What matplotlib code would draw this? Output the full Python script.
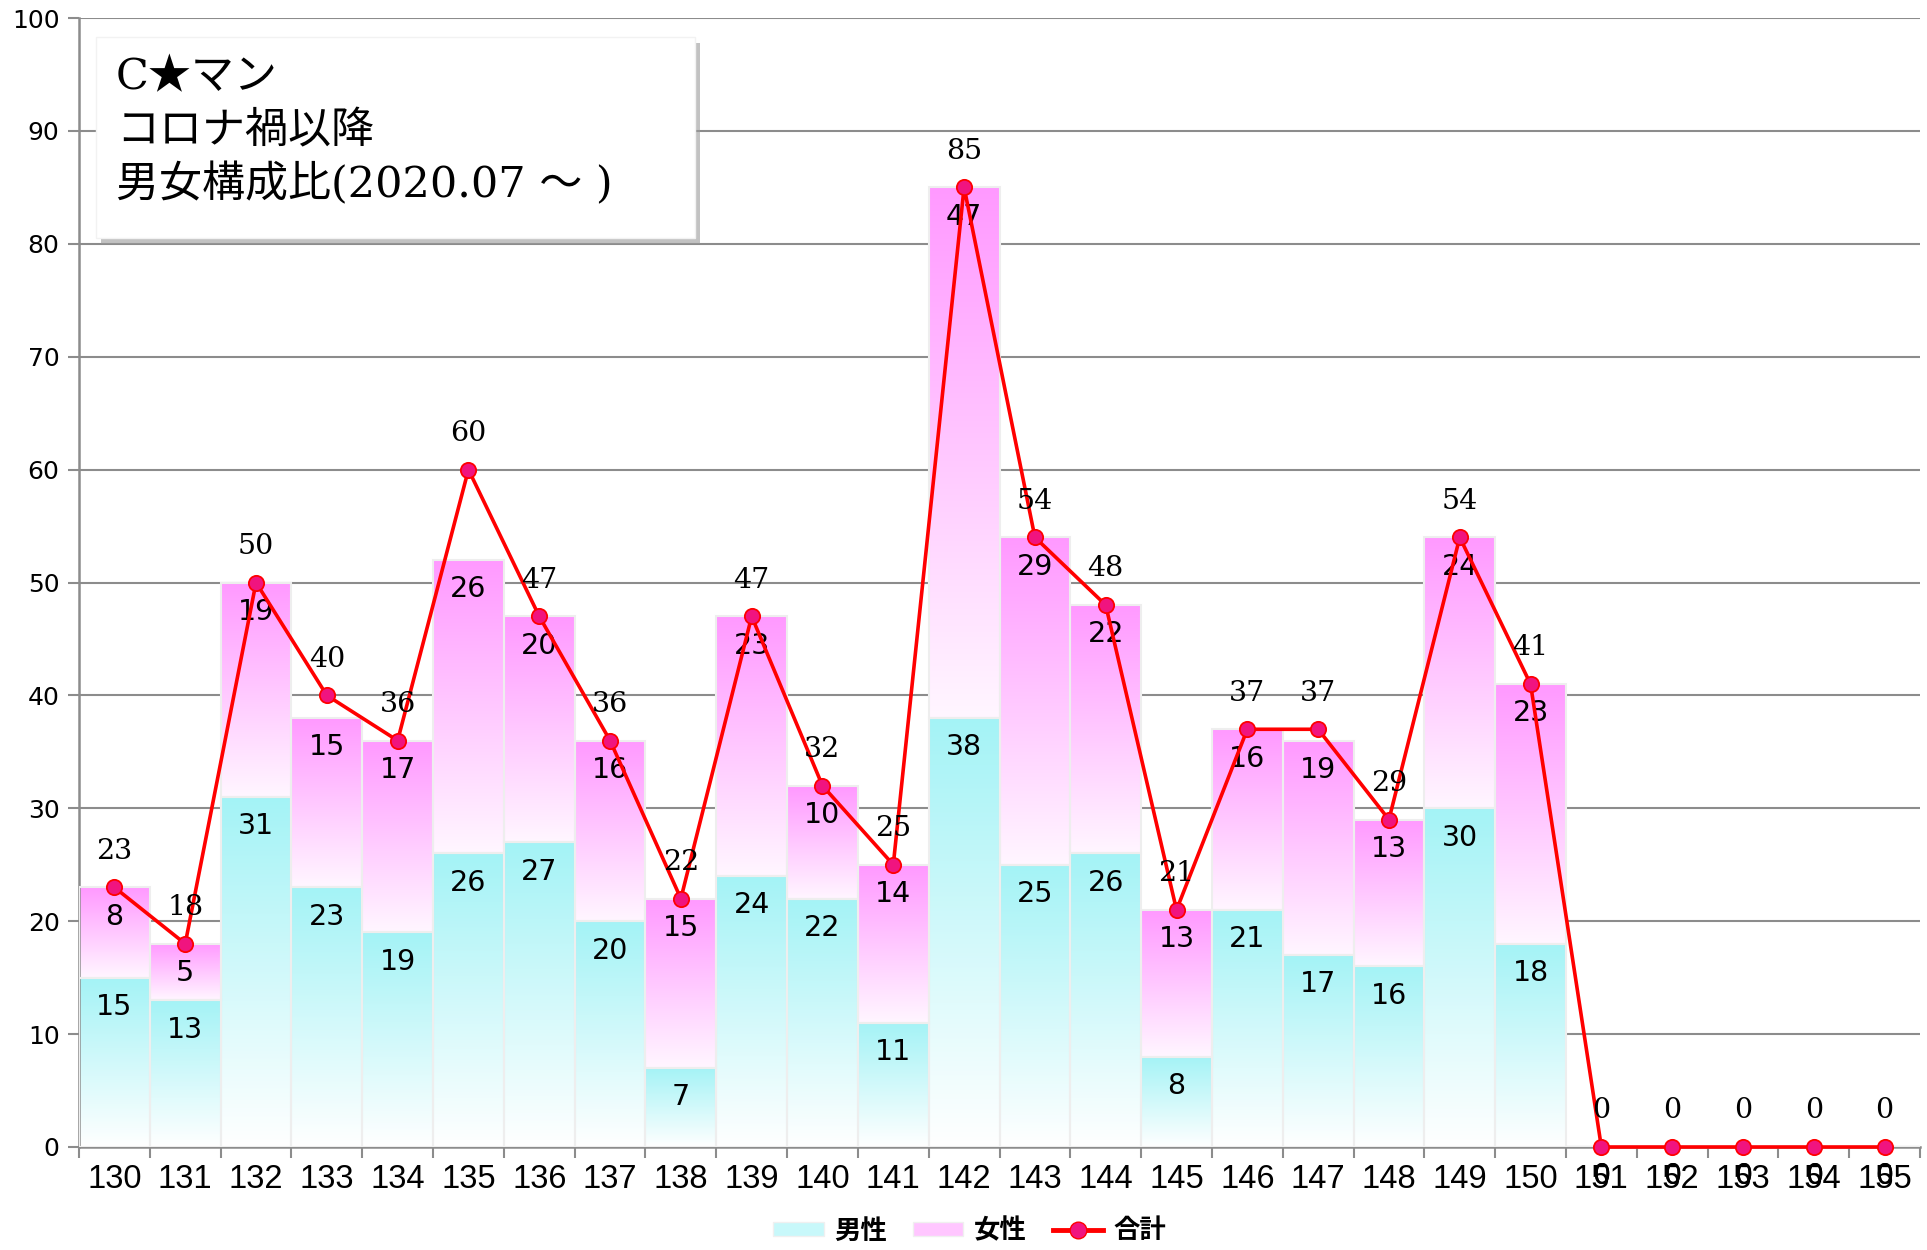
import matplotlib
matplotlib.use("Agg")
import matplotlib.pyplot as plt
import numpy as np
from matplotlib.colors import LinearSegmentedColormap
from matplotlib.lines import Line2D
from matplotlib.patches import Patch, Rectangle

# ── Data ─────────────────────────────────────────────────────────────────────
categories = [str(c) for c in range(130, 156)]
male = [15, 13, 31, 23, 19, 26, 27, 20, 7, 24, 22, 11, 38, 25, 26, 8, 21, 17, 16, 30, 18,
        0, 0, 0, 0, 0]
female = [8, 5, 19, 15, 17, 26, 20, 16, 15, 23, 10, 14, 47, 29, 22, 13, 16, 19, 13, 24, 23,
          0, 0, 0, 0, 0]
total = [23, 18, 50, 40, 36, 60, 47, 36, 22, 47, 32, 25, 85, 54, 48, 21, 37, 37, 29, 54, 41,
         0, 0, 0, 0, 0]
title_lines = ["C★マン", "コロナ禍以降", "男女構成比(2020.07 ～ )"]
legend_labels = ["男性", "女性", "合計"]

CJK = ["Noto Sans CJK JP", "DejaVu Sans"]
LABEL_FONT = ["DejaVu Sans"]
SERIF = ["DejaVu Serif"]
TITLE_FONT = ["DejaVu Serif", "Noto Sans CJK JP", "DejaVu Sans"]
CYAN = "#a4f3f6"
PINK = "#ff99ff"
GRID = "#8c8c8c"

W, H = 1927, 1250
fig = plt.figure(figsize=(W / 100, H / 100), dpi=100)
ax = fig.add_axes([79 / W, 1 - 1147 / H, (1920 - 79) / W, (1147 - 18) / H])

x = np.arange(len(categories))
male_cmap = LinearSegmentedColormap.from_list("m", ["#ffffff", CYAN])
fem_cmap = LinearSegmentedColormap.from_list("f", ["#fff6ff", PINK])
grad = np.linspace(0, 1, 256).reshape(-1, 1)


def gradient_bars(vals, bottoms, cmap):
    bars = ax.bar(x, vals, width=1.0, bottom=bottoms, facecolor="none",
                  edgecolor="#eeeeee", linewidth=1.5, zorder=3)
    for b in bars:
        if b.get_height() <= 0:
            continue
        x0, y0 = b.get_x(), b.get_y()
        im = ax.imshow(grad, extent=[x0, x0 + b.get_width(), y0, y0 + b.get_height()],
                       origin="lower", aspect="auto", cmap=cmap, zorder=2,
                       interpolation="bilinear")
        im.set_clip_path(b)
    return bars


gradient_bars(male, 0, male_cmap)
gradient_bars(female, male, fem_cmap)

ax.plot(x, total, color="#ff0000", lw=2.6, marker="o", ms=11,
        mfc="#f0147f", mec="#ff0000", mew=1.3, zorder=5, clip_on=False)

# data labels
for xi, m, f, t in zip(x, male, female, total):
    ax.text(xi, m - 2.6, str(m), ha="center", va="center", fontsize=20.5,
            family=LABEL_FONT, zorder=4, clip_on=False)
    ax.text(xi, m + f - 2.6, str(f), ha="center", va="center", fontsize=20.5,
            family=LABEL_FONT, zorder=4, clip_on=False)
    ax.text(xi, t + 3.2, str(t), ha="center", va="center", fontsize=20.5,
            family=SERIF, zorder=6, clip_on=False)

ax.set_xlim(-0.5, len(categories) - 0.5)
ax.set_ylim(0, 100)
ax.set_yticks(range(0, 101, 10))
ax.set_yticklabels([str(v) for v in range(0, 101, 10)],
                   family=["Liberation Sans Narrow", "DejaVu Sans"], fontsize=18)
ax.set_xticks(np.arange(-0.5, len(categories)), [""] * (len(categories) + 1))
ax.set_xticks(x, categories, minor=True, fontsize=23.5, family=["Liberation Sans"])
ax.tick_params(axis="x", which="major", length=8, width=1.5, color=GRID)
ax.tick_params(axis="x", which="minor", length=0, pad=12)
ax.tick_params(axis="y", length=8, width=1.5, color=GRID, pad=6)
ax.grid(axis="y", color=GRID, lw=1.5, zorder=1)
ax.set_axisbelow(True)
for s in ["top", "right"]:
    ax.spines[s].set_visible(False)
for s in ["left", "bottom"]:
    ax.spines[s].set_color(GRID)
    ax.spines[s].set_linewidth(1.8)

# title box (figure pixel coordinates)
bx0, by0, bx1, by1 = 96, 37, 695, 238
fig.patches.append(Rectangle((bx0 / W + 5 / W, 1 - (by1 + 6) / H), (bx1 - bx0) / W,
                             (by1 - by0) / H, transform=fig.transFigure,
                             facecolor="#9a9a9a", edgecolor="none", alpha=0.6, zorder=7))
fig.patches.append(Rectangle((bx0 / W, 1 - by1 / H), (bx1 - bx0) / W, (by1 - by0) / H,
                             transform=fig.transFigure, facecolor="white",
                             edgecolor="#f2f2f2", zorder=8))
for i, line in enumerate(title_lines):
    fig.text(116 / W, 1 - (77 + 54 * i) / H, line, ha="left", va="center",
             fontsize=31, family=TITLE_FONT, zorder=9)

handles = [Patch(facecolor="#c8f8fa", edgecolor="#f0f0f0"),
           Patch(facecolor="#ffc6ff", edgecolor="#f0f0f0"),
           Line2D([], [], color="#ff0000", lw=3.5, marker="o", ms=12,
                  mfc="#f0147f", mec="#ff0000")]
fig.legend(handles, legend_labels, loc="center", bbox_to_anchor=(970 / W, 1 - 1231 / H),
           ncol=3, frameon=False, handlelength=1.9, handleheight=0.4, columnspacing=1.0,
           handletextpad=0.4, prop={"family": CJK, "weight": "bold", "size": 19})

fig.savefig("out.png", dpi=100)
